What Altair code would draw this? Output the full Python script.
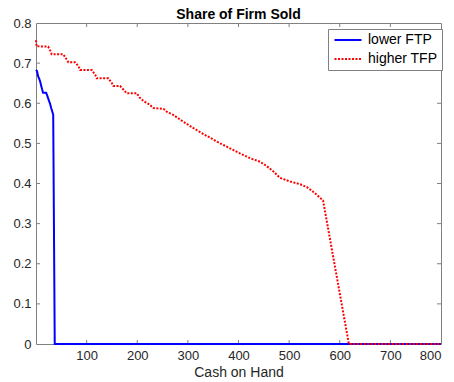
import altair as alt
import pandas as pd

# ---- data ----
low_x = [0, 2, 4, 6, 8, 10, 12, 14, 20, 22, 24, 26, 28, 30, 32, 34, 37, 800]
low_y = [0.683, 0.680, 0.668, 0.662, 0.655, 0.645, 0.635, 0.626, 0.626, 0.620,
         0.612, 0.605, 0.598, 0.588, 0.580, 0.571, 0.0, 0.0]

high_x = [0, 1, 24, 29, 31, 54, 59, 64, 77, 84, 87, 110, 117, 120, 143, 150, 153,
          166, 172, 179, 199, 205, 213, 225, 232, 252, 258, 271, 291, 311, 331,
          364, 403, 423, 443, 456, 469, 482, 502, 522, 535, 548, 567, 618, 800]
high_y = [0.757, 0.742, 0.741, 0.729, 0.722, 0.722, 0.712, 0.702, 0.702, 0.692,
          0.683, 0.683, 0.671, 0.662, 0.662, 0.650, 0.643, 0.643, 0.635, 0.625,
          0.625, 0.614, 0.605, 0.596, 0.588, 0.586, 0.579, 0.571, 0.554, 0.538,
          0.523, 0.500, 0.475, 0.463, 0.454, 0.443, 0.430, 0.414, 0.405, 0.398,
          0.391, 0.379, 0.358, 0.0, 0.0]

series_names = ["lower FTP", "higher TFP"]
x_ticks = [100, 200, 300, 400, 500, 600, 700, 800]
y_ticks = [0, 0.1, 0.2, 0.3, 0.4, 0.5, 0.6, 0.7, 0.8]

rows = []
for i, (x, y) in enumerate(zip(low_x, low_y)):
    rows.append({"series": series_names[0], "x": x, "y": y, "i": i})
for i, (x, y) in enumerate(zip(high_x, high_y)):
    rows.append({"series": series_names[1], "x": x, "y": y, "i": i})
df = pd.DataFrame(rows)

W, H = 405, 321
FONT = "Liberation Sans"
TXT = "#262626"
AX = "#808080"

xscale = alt.Scale(domain=[0, 800], nice=False, zero=False)
yscale = alt.Scale(domain=[0, 0.8], nice=False)


def make_legend():
    return alt.Legend(orient="none", legendX=292, legendY=6,
                      symbolType="M-1,0H5", symbolSize=81,
                      symbolStrokeWidth=2,
                      labelFont=FONT, labelFontSize=14,
                      labelColor="black", labelOffset=22,
                      strokeColor=AX, fillColor="white",
                      padding=4, rowPadding=5)


lines = alt.Chart(df).mark_line(strokeWidth=2, strokeCap="butt").encode(
    x=alt.X("x:Q", scale=xscale,
            axis=alt.Axis(values=x_ticks, title="Cash on Hand", grid=False,
                          tickSize=0, domain=False, labelPadding=5,
                          titlePadding=3)),
    y=alt.Y("y:Q", scale=yscale,
            axis=alt.Axis(values=y_ticks, title="", format=".1~f", grid=False,
                          tickSize=0, domain=False, labelPadding=5)),
    color=alt.Color("series:N", title=None,
                    scale=alt.Scale(domain=series_names, range=["#0000ff", "#ff0000"]),
                    legend=make_legend()),
    strokeDash=alt.StrokeDash("series:N", title=None,
                              scale=alt.Scale(domain=series_names,
                                              range=[[1, 0], [2, 1.5]]),
                              legend=make_legend()),
    order=alt.Order("i:Q"),
    detail="series:N",
)

xt = pd.DataFrame({"v": x_ticks[:-1]})
yt = pd.DataFrame({"v": y_ticks[1:-1]})

tick_b = alt.Chart(xt).mark_rule(color=AX, strokeWidth=1).encode(
    x=alt.X("v:Q", scale=xscale), y=alt.value(H), y2=alt.value(H - 4))
tick_t = alt.Chart(xt).mark_rule(color=AX, strokeWidth=1).encode(
    x=alt.X("v:Q", scale=xscale), y=alt.value(0), y2=alt.value(4))
tick_l = alt.Chart(yt).mark_rule(color=AX, strokeWidth=1).encode(
    y=alt.Y("v:Q", scale=yscale), x=alt.value(0), x2=alt.value(4))
tick_r = alt.Chart(yt).mark_rule(color=AX, strokeWidth=1).encode(
    y=alt.Y("v:Q", scale=yscale), x=alt.value(W), x2=alt.value(W - 4))

chart = alt.layer(tick_b, tick_t, tick_l, tick_r, lines).properties(
    width=W, height=H,
    title=alt.TitleParams("Share of Firm Sold", font=FONT, fontSize=14,
                          fontWeight="bold", color="black", offset=-5),
    autosize=alt.AutoSizeParams(type="none"),
    padding={"left": 36, "top": 23, "right": 13, "bottom": 38},
    background="white",
).configure_view(
    stroke=AX, strokeWidth=1
).configure_axis(
    labelFont=FONT, labelFontSize=13, labelColor=TXT,
    titleFont=FONT, titleFontSize=14, titleColor=TXT, titleFontWeight="normal"
)

chart.save("out.html", embed_options={"renderer": "svg", "actions": False})
